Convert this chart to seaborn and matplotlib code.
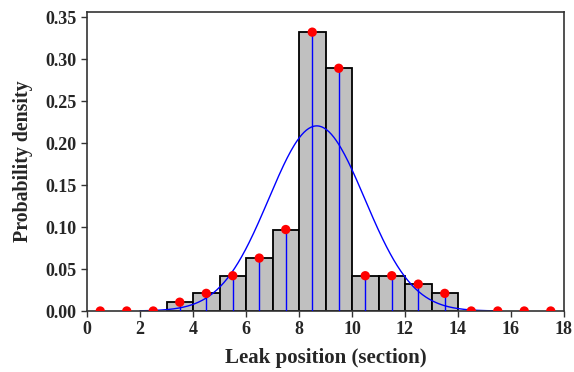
import numpy as np
import pandas as pd
import matplotlib
matplotlib.use("Agg")
import matplotlib.pyplot as plt
import seaborn as sns

# Leak-position sections (bin centres) and observed probability density
section_centres = [0.5, 1.5, 2.5, 3.5, 4.5, 5.5, 6.5, 7.5, 8.5,
                   9.5, 10.5, 11.5, 12.5, 13.5, 14.5, 15.5, 16.5, 17.5]
density = [0.0, 0.0, 0.0, 0.0105, 0.021, 0.042, 0.063, 0.097, 0.332,
           0.289, 0.042, 0.042, 0.032, 0.021, 0.0, 0.0, 0.0, 0.0]

# Fitted normal distribution
fit_mean = 8.67
fit_std = 1.81

x_ticks = [0, 2, 4, 6, 8, 10, 12, 14, 16, 18]
y_ticks = [0.00, 0.05, 0.10, 0.15, 0.20, 0.25, 0.30, 0.35]

df = pd.DataFrame({"section": section_centres, "density": density})
curve_x = np.linspace(2.0, 15.5, 300)
curve = pd.DataFrame({
    "x": curve_x,
    "pdf": np.exp(-0.5 * ((curve_x - fit_mean) / fit_std) ** 2)
           / (fit_std * np.sqrt(2 * np.pi)),
})

sns.set_style("ticks")
plt.rcParams["font.family"] = ["Liberation Serif", "DejaVu Serif"]
plt.rcParams["font.weight"] = "bold"

fig, ax = plt.subplots(figsize=(5.74, 3.72), dpi=100)
fig.subplots_adjust(left=87 / 574, right=564 / 574, top=1 - 12 / 372, bottom=1 - 311 / 372)

pos = df[df["density"] > 0].reset_index(drop=True)
sns.histplot(data=pos, x="section", weights="density", binwidth=1, binrange=(3, 14),
             stat="count", color="#c0c0c0", alpha=1.0, edgecolor="black",
             linewidth=1.3, ax=ax)

sns.lineplot(data=curve, x="x", y="pdf", color="#0000ff", linewidth=1.0, ax=ax)

ax.vlines(pos["section"], 0, pos["density"], color="#0000ff", linewidth=1.0, zorder=3)

sns.scatterplot(data=df, x="section", y="density", color="#ff0000", s=45,
                edgecolor="none", ax=ax, zorder=4)

ax.set_xlim(0, 18)
ax.set_ylim(0, 0.356)
ax.set_xticks(x_ticks)
ax.set_yticks(y_ticks)
ax.set_xticklabels([str(t) for t in x_ticks])
ax.set_yticklabels([f"{t:.2f}" for t in y_ticks])
ax.tick_params(axis="both", direction="out", length=4, width=1, labelsize=13,
               color="#333333", pad=3.5)
for lab in ax.get_xticklabels() + ax.get_yticklabels():
    lab.set_fontweight("bold")

for side in ["left", "right", "top", "bottom"]:
    ax.spines[side].set_visible(True)
    ax.spines[side].set_color("#333333")
    ax.spines[side].set_linewidth(1.2)

ax.set_xlabel("Leak position (section)", fontsize=15, fontweight="bold", labelpad=7)
ax.set_ylabel("Probability density", fontsize=14.3, fontweight="bold", labelpad=9)

fig.savefig("out.png", dpi=100)
